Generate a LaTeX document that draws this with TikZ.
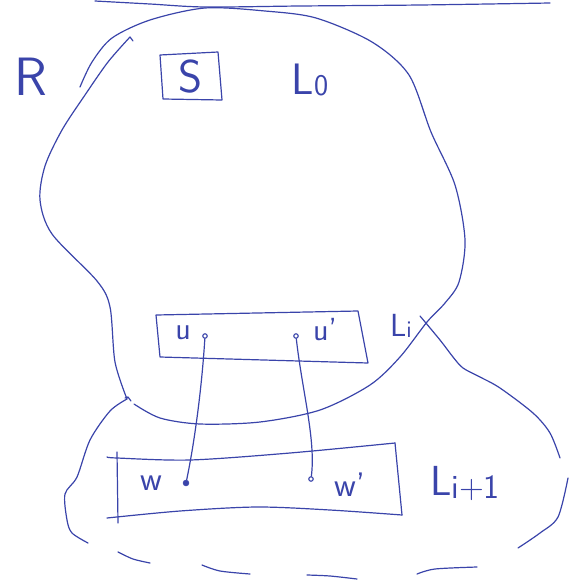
\documentclass[tikz,border=0pt]{standalone}
\usepackage{fontspec}
\definecolor{penblue}{RGB}{58,68,170}
\begin{document}
\begin{tikzpicture}[x=1pt,y=-1pt,
  pen/.style={draw=penblue, line width=1.2pt, line cap=round, line join=round},
  lbl/.style={text=penblue, font=\sffamily, inner sep=0pt},
  opendot/.style={circle, draw=penblue, line width=1.1pt, fill=white, minimum size=4.5pt, inner sep=0pt},
  filldot/.style={circle, draw=penblue, fill=penblue, minimum size=6pt, inner sep=0pt}]
\useasboundingbox (0,0) rectangle (580,581);

% top line
\draw[pen] plot[smooth] coordinates {(95,1) (150,4) (205,7) (300,6) (420,5) (550,3)};

% big blob L0 : top arc and right side down to bottom
\draw[pen] plot[smooth] coordinates {(80,87) (92,62) (112,38) (150,20) (205,8) (265,11) (316,18) (372,42) (409,75) (431,132) (455,185) (465,240) (459,282) (445,303) (427,322) (400,357) (370,385) (320,410) (260,422) (200,424) (160,418) (134,404)};
% big blob left side
\draw[pen] plot[smooth] coordinates {(127,399) (115,362) (110,307) (97,281) (52,234) (40,200) (45,166) (62,130) (85,95) (108,62) (130,37)};
\draw[pen] (130,37) -- (133,41);

% lower blob L_{i+1}
\draw[pen] plot[smooth] coordinates {(127,399) (110,411) (90,440) (77,477) (65,494) (67,520) (72,533) (88,543)};
\draw[pen] (125,398) -- (128,397) -- (131,401);
\draw[pen] plot[smooth] coordinates {(118,552) (133,559) (150,563)};
\draw[pen] plot[smooth] coordinates {(202,565) (220,571) (250,574)};
\draw[pen] plot[smooth] coordinates {(307,575) (330,576) (357,579)};
\draw[pen] plot[smooth] coordinates {(417,574) (435,569) (477,567)};
\draw[pen] plot[smooth] coordinates {(518,548) (540,533) (558,517) (568,478)};
\draw[pen] plot[smooth] coordinates {(420,316) (440,340) (453,357) (463,368) (480,377) (500,388) (533,413) (550,433) (560,458)};

% labels
\node[lbl, font=\sffamily\fontsize{54}{54}\selectfont] (R) at (31,77) {R};
\node[lbl, font=\sffamily\fontsize{46}{46}\selectfont] (S) at (191,77) {S};
\draw[pen] (160,55) -- (218,52) -- (222,100) -- (163,99) -- cycle;
\node[lbl] (L0) at (310,80) {\fontsize{44}{44}\selectfont L\raisebox{-1pt}{\fontsize{30}{30}\selectfont 0}};

% L_i box
\draw[pen] (156,315) -- (358,311) -- (368,363) -- (160,357) -- cycle;
\node[lbl] (Li) at (401,326) {\fontsize{32}{32}\selectfont L\raisebox{-1pt}{\fontsize{24}{24}\selectfont i}};
\node[lbl, font=\sffamily\fontsize{32}{32}\selectfont] (u) at (183,333) {u};
\node[lbl, font=\sffamily\fontsize{32}{32}\selectfont] (up) at (325,330) {u'};
\node[opendot] (ud) at (205,336) {};
\node[opendot] (upd) at (296,336) {};

% L_{i+1} box
\draw[pen] plot[smooth] coordinates {(107,457) (117,458) (190,460) (290,453) (395,443)};
\draw[pen] (395,443) -- (402,515);
\draw[pen] plot[smooth] coordinates {(107,518) (180,511) (257,507) (330,510) (402,515)};
\draw[pen] (117,452) -- (118,523);
\node[lbl] (Li1) at (465,484) {\fontsize{42}{42}\selectfont L\raisebox{-3pt}{\fontsize{34}{34}\selectfont i+1}};
\node[lbl, font=\sffamily\fontsize{34}{34}\selectfont] (w) at (151,483) {w};
\node[lbl, font=\sffamily\fontsize{34}{34}\selectfont] (wp) at (350,485) {w'};
\node[filldot] (wd) at (186,483) {};
\node[opendot] (wpd) at (311,479) {};

% connectors
\draw[pen] (ud) .. controls (202,385) and (195,440) .. (wd);
\draw[pen] (upd) .. controls (302,390) and (316,440) .. (wpd);
\end{tikzpicture}
\end{document}
